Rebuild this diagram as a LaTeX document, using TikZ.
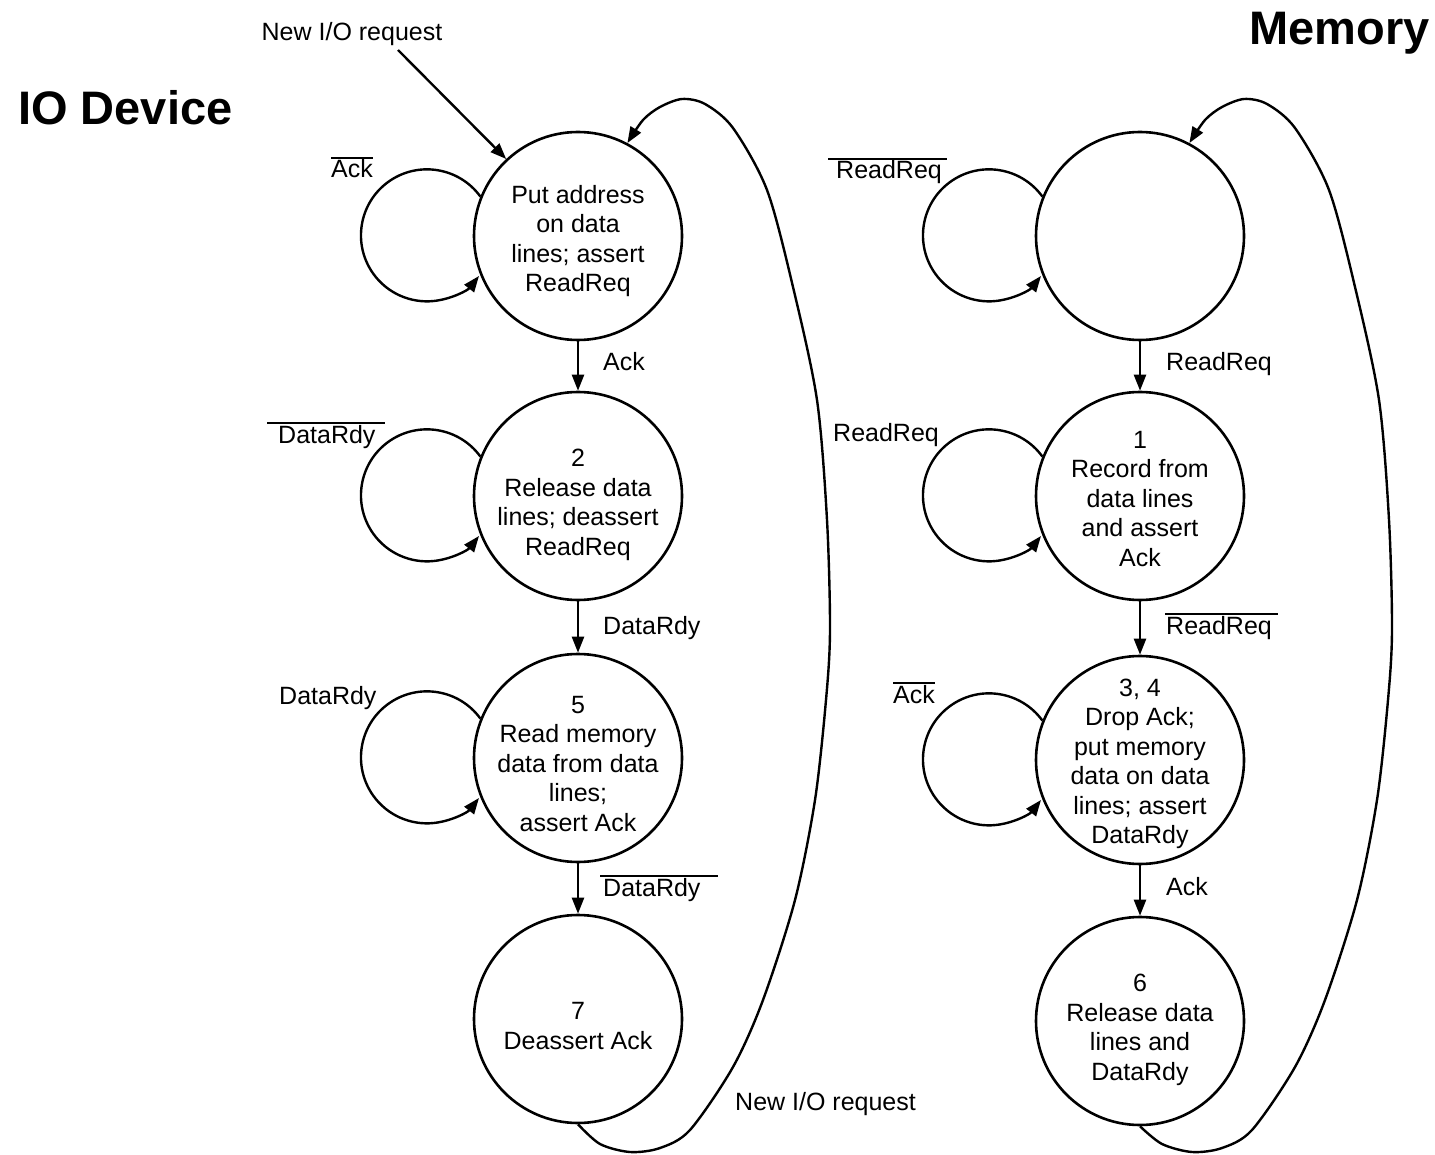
\documentclass[tikz,border=0pt]{standalone}
\usepackage{fontspec}
\setmainfont{Liberation Sans}
\usetikzlibrary{arrows.meta}
% label font and overlined (negated) signal names
\newcommand\lblfont{\fontsize{25}{29.5}\selectfont}
\newcommand\ovl[3]{\leavevmode\vbox{\hrule height 1.6pt\kern 1.2pt\hbox{\kern#1\relax #3\kern#2\relax}}}
\begin{document}
\begin{tikzpicture}[x=1pt,y=1pt,
  state/.style={circle,draw,line width=2.6pt,minimum size=208pt,inner sep=0pt},
  stext/.style={inner sep=0pt,align=center,font=\lblfont},
  lab/.style={inner sep=0pt,font=\lblfont},
  title/.style={inner sep=0pt,font=\bfseries\fontsize{47}{50}\selectfont},
  conn/.style={line width=2.4pt,-{Triangle[length=16pt,width=12pt]}}
]
\useasboundingbox (0,0) rectangle (1435,-1155);

% titles
\node[title,anchor=base west] (tio) at (18,-125) {IO Device};
\node[title,anchor=base east] (tmem) at (1430,-45) {Memory};

% IO device states
\node[state] (c1) at (578,-236) {};
\node[state] (c2) at (578,-496) {};
\node[state] (c3) at (578,-758) {};
\node[state] (c4) at (578,-1019) {};
\node[stext] (t1) at (578,-241) {Put address\\on data\\lines; assert\\ReadReq};
\node[stext] (t2) at (578,-505) {2\\Release data\\lines; deassert\\ReadReq};
\node[stext] (t3) at (578,-764) {5\\Read memory\\data from data\\lines;\\assert Ack};
\node[stext] (t4) at (578,-1026) {7\\Deassert Ack};

% memory states
\node[state] (r1) at (1140,-236) {};
\node[state] (r2) at (1140,-496) {};
\node[state] (r3) at (1140,-760) {};
\node[state] (r4) at (1140,-1021) {};
\node[stext] (u2) at (1140,-499) {1\\Record from\\data lines\\and assert\\Ack};
\node[stext] (u3) at (1140,-764) {3, 4\\Drop Ack;\\put memory\\data on data\\lines; assert\\DataRdy};
\node[stext] (u4) at (1140,-1030) {6\\Release data\\lines and\\DataRdy};

% forward transitions
\draw[conn] (c1.south) -- (c2.north);
\draw[conn] (c2.south) -- (c3.north);
\draw[conn] (c3.south) -- (c4.north);
\draw[conn] (r1.south) -- (r2.north);
\draw[conn] (r2.south) -- (r3.north);
\draw[conn] (r3.south) -- (r4.north);

% self loops
\foreach \s in {c1,c2,c3,r1,r2,r3}
  \draw[conn] (\s.158) arc[start angle=36,end angle=322,radius=66];

% incoming request
\node[lab,anchor=base] (nr1) at (352,-41) {New I/O request};
\coordinate (nrstart) at (398,-50);
\draw[conn] (nrstart) -- (c1.133);

% return transitions
\draw[conn] plot[smooth] coordinates {(c4.south) (600,-1144) (630,-1152) (660,-1148) (690,-1130)
  (733,-1067) (763,-1000) (795,-900) (815,-800) (826,-700) (830,-630) (827,-520) (817,-400)
  (793,-287) (767,-190) (733,-128) (705,-104) (682,-99) (660,-107) (643,-120) (c1.62)};
\begin{scope}[xshift=562pt]
\draw[conn] plot[smooth] coordinates {(r4.south) (600,-1144) (630,-1152) (660,-1148) (690,-1130)
  (733,-1067) (763,-1000) (795,-900) (815,-800) (826,-700) (830,-630) (827,-520) (817,-400)
  (793,-287) (767,-190) (733,-128) (705,-104) (682,-99) (660,-107) (643,-120) (r1.62)};
\end{scope}

% IO device labels
\node[lab,anchor=base] (l1) at (352,-178) {\ovl{0pt}{0pt}{Ack}};
\node[lab,anchor=base west] (l2) at (603,-371) {Ack};
\node[lab,anchor=base west] (l3) at (267,-443) {\ovl{11pt}{10pt}{DataRdy}};
\node[lab,anchor=base west] (l4) at (603,-634) {DataRdy};
\node[lab,anchor=base west] (l5) at (279,-704) {DataRdy};
\node[lab,anchor=base west] (l6) at (600,-896) {\ovl{3pt}{18pt}{DataRdy}};
\node[lab,anchor=base west] (nr2) at (735,-1110) {New I/O request};

% memory labels
\node[lab,anchor=base west] (m1) at (828,-179) {\ovl{8pt}{5pt}{ReadReq}};
\node[lab,anchor=base west] (m2) at (1166,-371) {ReadReq};
\node[lab,anchor=base west] (m3) at (833,-442) {ReadReq};
\node[lab,anchor=base west] (m4) at (1165,-634) {\ovl{1pt}{6pt}{ReadReq}};
\node[lab,anchor=base west] (m5) at (893,-703) {\ovl{0pt}{0pt}{Ack}};
\node[lab,anchor=base west] (m6) at (1166,-895) {Ack};
\end{tikzpicture}
\end{document}
